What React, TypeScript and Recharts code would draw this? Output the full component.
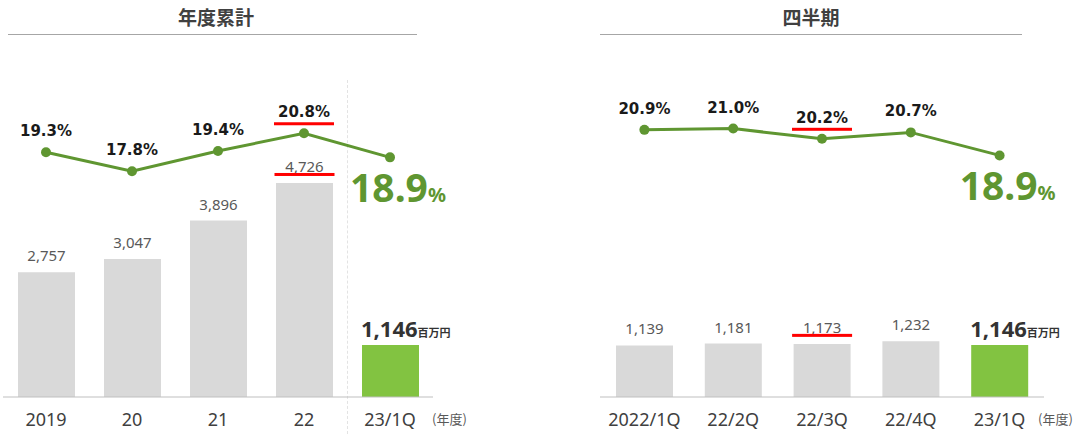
import React from 'react';
import { ComposedChart, Bar, Line, Cell, XAxis, YAxis, LabelList } from 'recharts';

// 年度累計
const annualCats = ['2019', '20', '21', '22', '23/1Q'];
const annualProfit = [2757, 3047, 3896, 4726, 1146];
const annualMargin = [19.3, 17.8, 19.4, 20.8, 18.9];
const annualMark = 3;

// 四半期
const quarterCats = ['2022/1Q', '22/2Q', '22/3Q', '22/4Q', '23/1Q'];
const quarterProfit = [1139, 1181, 1173, 1232, 1146];
const quarterMargin = [20.9, 21.0, 20.2, 20.7, 18.9];
const quarterMark = 2;

const GRAY = '#d9d9d9';
const LIME = '#82c341';
const OLIVE = '#5f9631';
const RED = '#ff0000';
const SANS = '"Noto Sans", "Noto Sans CJK JP", sans-serif';
const JP = '"Noto Sans CJK JP", sans-serif';
const WIDE = '"DejaVu Sans", sans-serif';

const fmt = (v: number) => v.toLocaleString('en-US');

function barLabel(mark: number, last: number) {
    return (p: any) => {
        const { x, y, width, value, index } = p;
        const cx = x + width / 2;
        if (index === last) {
            return (
                <text x={x - 1} y={y - 8} fontFamily={SANS} fill="#333">
                    <tspan fontSize={22} fontWeight={700}>{fmt(value)}</tspan>
                    <tspan fontSize={11} fontWeight={700} fontFamily={JP}>百万円</tspan>
                </text>
            );
        }
        return (
            <g>
                <text x={cx} y={y - 11} textAnchor="middle" fontFamily={SANS} fontSize={15} fill="#595959">{fmt(value)}</text>
                {index === mark && <rect x={cx - 30} y={y - 10} width={60} height={3} fill={RED} />}
            </g>
        );
    };
}

function pctLabel(mark: number, last: number) {
    return (p: any) => {
        const { x, y, value, index } = p;
        if (index === last) {
            return (
                <text x={x + 8} y={y + 45} textAnchor="middle" fontFamily={SANS} fontWeight={700} fill={OLIVE}>
                    <tspan fontSize={39}>{value.toFixed(1)}</tspan>
                    <tspan fontSize={20}>%</tspan>
                </text>
            );
        }
        return (
            <g>
                <text x={x} y={y - 16} textAnchor="middle" fontFamily={WIDE} fontWeight={700} fontSize={15} fill="#1a1a1a">{value.toFixed(1)}%</text>
                {index === mark && <rect x={x - 30} y={y - 11} width={60} height={3} fill={RED} />}
            </g>
        );
    };
}

function Panel({ cats, profit, margin, mark, pctMax, width, left, right }: any) {
    const data = cats.map((name: string, i: number) => ({ name, profit: profit[i], margin: margin[i] }));
    const last = cats.length - 1;
    return (
        <ComposedChart width={width} height={434} data={data} margin={{ top: 80, right, left, bottom: 0 }}>
            <XAxis dataKey="name" height={37} tickLine={false} axisLine={{ stroke: '#bfbfbf' }}
                tick={{ fontSize: 18, fill: '#404040', fontFamily: SANS }} tickMargin={10} interval={0} />
            <YAxis yAxisId="v" hide domain={[0, 7000]} />
            <YAxis yAxisId="p" hide domain={[0, pctMax]} />
            <Bar yAxisId="v" dataKey="profit" barSize={57} isAnimationActive={false}>
                {data.map((_: any, i: number) => <Cell key={i} fill={i === last ? LIME : GRAY} />)}
                <LabelList dataKey="profit" content={barLabel(mark, last)} />
            </Bar>
            <Line yAxisId="p" dataKey="margin" stroke={OLIVE} strokeWidth={3}
                dot={{ r: 5, fill: OLIVE, stroke: 'none' }} isAnimationActive={false}>
                <LabelList dataKey="margin" content={pctLabel(mark, last)} />
            </Line>
        </ComposedChart>
    );
}

const titleStyle: React.CSSProperties = {
    position: 'absolute', top: 5, textAlign: 'center', fontFamily: JP,
    fontWeight: 700, fontSize: 19, color: '#404040', lineHeight: '24px',
};
const unitStyle: React.CSSProperties = {
    position: 'absolute', top: 409, fontFamily: JP, fontSize: 13, color: '#595959', lineHeight: '20px',
};

export default function App() {
    return (
        <div style={{ position: 'absolute', left: 0, top: 0, width: 1084, height: 434, background: '#fff', overflow: 'hidden' }}>
            <div style={{ ...titleStyle, left: 8, width: 416 }}>年度累計</div>
            <div style={{ position: 'absolute', left: 8, top: 34, width: 409, height: 1, background: '#a6a6a6' }} />
            <div style={{ ...titleStyle, left: 600, width: 422 }}>四半期</div>
            <div style={{ position: 'absolute', left: 600, top: 34, width: 422, height: 1, background: '#a6a6a6' }} />
            <div style={{ position: 'absolute', left: 347, top: 80, width: 0, height: 354, borderLeft: '1px dashed #e3e3e3' }} />
            <div style={{ position: 'absolute', left: 0, top: 0 }}>
                <Panel cats={annualCats} profit={annualProfit} margin={annualMargin} mark={annualMark}
                    pctMax={25} width={490} left={3} right={57} />
            </div>
            <div style={{ position: 'absolute', left: 590, top: 0 }}>
                <Panel cats={quarterCats} profit={quarterProfit} margin={quarterMargin} mark={quarterMark}
                    pctMax={24.8} width={494} left={10} right={40} />
            </div>
            <div style={{ ...unitStyle, left: 432 }}>(年度)</div>
            <div style={{ ...unitStyle, left: 1038 }}>(年度)</div>
        </div>
    );
}
